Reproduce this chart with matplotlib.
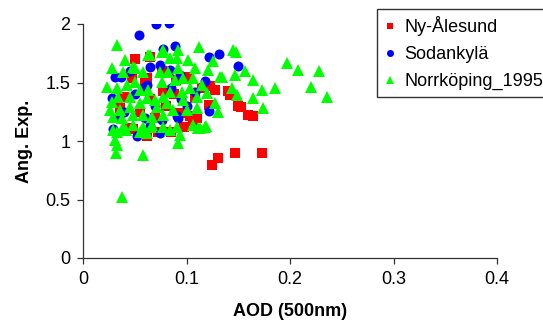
import matplotlib
matplotlib.use("Agg")
import matplotlib.pyplot as plt

plt.rcParams['font.family'] = ['Liberation Sans', 'DejaVu Sans']

# Ny-Ålesund (red squares)
ny_x = [0.036, 0.047, 0.050, 0.065, 0.062, 0.076, 0.045, 0.048, 0.062, 0.065,
        0.077, 0.060, 0.085, 0.088, 0.094, 0.103, 0.106, 0.108, 0.122, 0.123,
        0.128, 0.140, 0.142, 0.150, 0.153, 0.159, 0.164, 0.125, 0.130, 0.147,
        0.173, 0.055, 0.070, 0.080, 0.040, 0.100, 0.115, 0.090, 0.072, 0.110,
        0.098]
ny_y = [1.28, 1.54, 1.70, 1.72, 1.54, 1.60, 1.11, 1.10, 1.04, 1.36,
        1.43, 1.52, 1.08, 1.40, 1.24, 1.21, 1.17, 1.37, 1.31, 1.47,
        1.44, 1.43, 1.39, 1.30, 1.29, 1.22, 1.21, 0.795, 0.857, 0.895,
        0.895, 1.25, 1.20, 1.30, 1.38, 1.55, 1.45, 1.52, 1.08, 1.20,
        1.12]

# Sodankylä (blue circles)
so_x = [0.071, 0.083, 0.0545, 0.089, 0.077, 0.122, 0.131, 0.150, 0.074, 0.065,
        0.031, 0.037, 0.058, 0.118, 0.028, 0.029, 0.052, 0.074, 0.091, 0.076,
        0.084, 0.094, 0.0615, 0.065, 0.092, 0.122, 0.095, 0.040, 0.050, 0.085,
        0.100, 0.045, 0.070, 0.108, 0.060, 0.035]
so_y = [2.00, 2.01, 1.905, 1.81, 1.79, 1.715, 1.745, 1.645, 1.65, 1.635,
        1.545, 1.545, 1.45, 1.51, 1.365, 1.10, 1.04, 1.07, 1.21, 1.18,
        1.61, 1.565, 1.48, 1.13, 1.20, 1.26, 1.36, 1.25, 1.40, 1.45,
        1.30, 1.60, 1.30, 1.42, 1.20, 1.20]

# Norrköping_1995 (green triangles)
no_x = [0.0325, 0.0647, 0.0406, 0.0486, 0.0277, 0.0776, 0.092, 0.0905, 0.084, 0.1018,
        0.1124, 0.1452, 0.126, 0.132, 0.121, 0.108, 0.092, 0.0744, 0.0824, 0.0583,
        0.039, 0.0229, 0.0325, 0.0422, 0.050, 0.055, 0.063, 0.076, 0.089, 0.097,
        0.1066, 0.1147, 0.1034, 0.0953, 0.084, 0.0776, 0.0696, 0.0615, 0.0454, 0.0341,
        0.0277, 0.026, 0.0357, 0.0454, 0.055, 0.0712, 0.0809, 0.097, 0.1098, 0.1195,
        0.1275, 0.1098, 0.100, 0.0873, 0.0776, 0.0664, 0.0583, 0.0486, 0.0374, 0.0293,
        0.1307, 0.1437, 0.1485, 0.1646, 0.1727, 0.1855, 0.1742, 0.1646, 0.039, 0.0486,
        0.0583, 0.0664, 0.0776, 0.0905, 0.1066, 0.118, 0.0325, 0.0937, 0.1114, 0.084,
        0.055, 0.0615, 0.029, 0.031, 0.0325, 0.032, 0.058, 0.0374, 0.092, 0.113,
        0.119, 0.042, 0.066, 0.148, 0.157, 0.197, 0.208, 0.228, 0.220, 0.236,
        0.063, 0.050, 0.076, 0.134, 0.147]
no_y = [1.82, 1.735, 1.69, 1.635, 1.62, 1.78, 1.78, 1.71, 1.71, 1.69,
        1.806, 1.78, 1.68, 1.55, 1.607, 1.62, 1.62, 1.59, 1.59, 1.59,
        1.59, 1.464, 1.45, 1.48, 1.507, 1.436, 1.436, 1.507, 1.52, 1.536,
        1.536, 1.48, 1.45, 1.42, 1.42, 1.38, 1.35, 1.365, 1.38, 1.38,
        1.336, 1.265, 1.265, 1.293, 1.322, 1.293, 1.322, 1.35, 1.38, 1.408,
        1.322, 1.279, 1.265, 1.265, 1.222, 1.208, 1.222, 1.222, 1.194, 1.208,
        1.25, 1.45, 1.393, 1.52, 1.436, 1.45, 1.279, 1.365, 1.122, 1.137,
        1.122, 1.137, 1.122, 1.122, 1.137, 1.122, 1.08, 1.05, 1.108, 1.094,
        1.08, 1.066, 1.094, 1.01, 0.966, 0.895, 0.88, 0.519, 0.98, 1.108,
        1.128, 1.094, 1.122, 1.76, 1.60, 1.67, 1.61, 1.595, 1.465, 1.38,
        1.735, 1.62, 1.76, 1.55, 1.565]

x_ticks = [0, 0.1, 0.2, 0.3, 0.4]
y_ticks = [0, 0.5, 1, 1.5, 2]
x_tick_labels = ['0', '0.1', '0.2', '0.3', '0.4']
y_tick_labels = ['0', '0.5', '1', '1.5', '2']

fig = plt.figure(figsize=(5.43, 3.27), dpi=100)
ax = fig.add_axes([83/543, 1 - 258/327, (497 - 83)/543, (258 - 24)/327])

ax.plot(ny_x, ny_y, linestyle='none', marker='s', ms=6.8, color='#FF0000',
        markeredgewidth=0, label='Ny-Ålesund')
ax.plot(so_x, so_y, linestyle='none', marker='o', ms=7.2, color='#0000FF',
        markeredgewidth=0, label='Sodankylä')
ax.plot(no_x, no_y, linestyle='none', marker='^', ms=8.0, color='#00FF00',
        markeredgewidth=0, label='Norrköping_1995')

ax.set_xlim(0, 0.4)
ax.set_ylim(0, 2)
ax.set_xticks(x_ticks)
ax.set_xticklabels(x_tick_labels)
ax.set_yticks(y_ticks)
ax.set_yticklabels(y_tick_labels)
for s in ['top', 'right']:
    ax.spines[s].set_visible(False)
for s in ['left', 'bottom']:
    ax.spines[s].set_color('#333333')
    ax.spines[s].set_linewidth(0.9)
ax.tick_params(direction='out', length=4, width=0.9, color='#333333',
               labelsize=13, pad=5)
ax.set_xlabel('AOD (500nm)', fontsize=13, fontweight='bold', labelpad=11)
ax.set_ylabel('Ang. Exp.', fontsize=13, fontweight='bold', labelpad=9)

leg = ax.legend(loc='upper left', bbox_to_anchor=(377/543, 1 - 9/327),
                bbox_transform=fig.transFigure, fontsize=13, frameon=True,
                fancybox=False, edgecolor='black', markerscale=0.7,
                handlelength=0.6, handletextpad=0.5, borderpad=0.4,
                labelspacing=0.55, borderaxespad=0)
leg.get_frame().set_linewidth(1.0)

fig.savefig('out.png', dpi=100)
